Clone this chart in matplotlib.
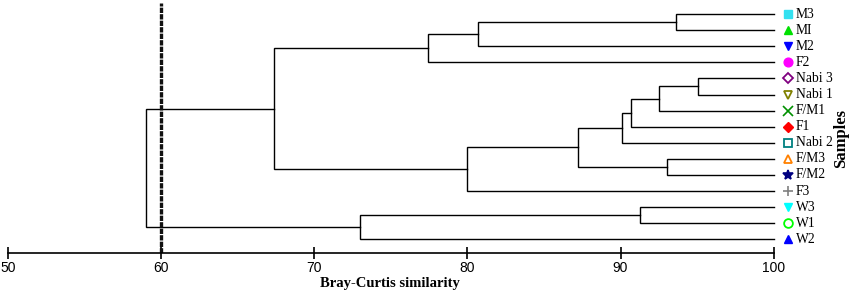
import matplotlib
matplotlib.use("Agg")
import matplotlib.pyplot as plt

# Leaves, top to bottom
leaves = ["M3", "MI", "M2", "F2", "Nabi 3", "Nabi 1", "F/M1", "F1", "Nabi 2",
          "F/M3", "F/M2", "F3", "W3", "W1", "W2"]
markers = ["s", "^", "v", "o", "D", "v", "x", "D", "s", "^", "*", "+", "v", "o", "^"]
colors = ["#33e0f0", "#00e000", "#0000ff", "#ff00ff", "#800080", "#808000",
          "#009000", "#ff0000", "#008080", "#ff8000", "#000080", "#808080",
          "#00ffff", "#00ff00", "#0000ff"]
filled = [True, True, True, True, False, False, True, True, False, False,
          True, True, True, False, True]

# Merges: (left node, right node, similarity). Nodes: leaf index or "cN"
merges = [
    (0, 1, 93.6),        # c0
    ("c0", 2, 80.7),     # c1
    ("c1", 3, 77.4),     # c2
    (4, 5, 95.05),       # c3
    ("c3", 6, 92.5),     # c4
    ("c4", 7, 90.7),     # c5
    ("c5", 8, 90.1),     # c6
    (9, 10, 93.0),       # c7
    ("c6", "c7", 87.2),  # c8
    ("c8", 11, 80.0),    # c9
    ("c2", "c9", 67.4),  # c10
    (12, 13, 91.3),      # c11
    ("c11", 14, 73.0),   # c12
    ("c10", "c12", 59.0) # c13
]
cutoff = 60
xticks = [50, 60, 70, 80, 90, 100]

W, H = 851, 292
fig = plt.figure(figsize=(W / 100, H / 100), dpi=100)
x0, x1 = 8, 773.7
ax_bottom = 253
ax = fig.add_axes([x0 / W, (H - ax_bottom) / H, (x1 - x0) / W, ax_bottom / H])
step = 16.1
first = 14
ax.set_xlim(50, 100)
ax.set_ylim((ax_bottom - first) / step, -first / step)
upx = (x1 - x0) / 50  # pixels per unit

pos = {}
height = {}
for i in range(len(leaves)):
    pos[i] = i
    height[i] = 100
for k, (a, b, s) in enumerate(merges):
    ya, yb = pos[a], pos[b]
    ha, hb = height[a], height[b]
    ax.plot([ha, s, s, hb], [ya, ya, yb, yb], color="black", lw=1.0,
            solid_joinstyle="miter", clip_on=False)
    name = "c%d" % k
    pos[name] = (ya + yb) / 2
    height[name] = s

ax.axvline(cutoff, ymin=0, ymax=1 - 3 / ax_bottom, color="#111111", lw=2.4,
           linestyle=(0, (1.6, 0.35)))

label_font = {"family": ["Liberation Serif", "DejaVu Serif"], "size": 9.8}
for i, name in enumerate(leaves):
    ms = 6.3 if markers[i] not in ("x", "+", "*") else 7.3
    if markers[i] == "D":
        ms = 5.3
    kw = dict(marker=markers[i], ms=ms, color=colors[i], clip_on=False,
              linestyle="none")
    if filled[i]:
        kw.update(mfc=colors[i], mec=colors[i])
    else:
        kw.update(mfc="none", mec=colors[i], mew=1.3)
    if markers[i] in ("x", "+", "*"):
        kw.update(mew=1.2)
    ax.plot([100 + (788 - x1) / upx], [i], **kw)
    ax.text(100 + (796 - x1) / upx, i, name, va="center",
            ha="left", fontdict=label_font, clip_on=False)

for s in ["left", "right", "top"]:
    ax.spines[s].set_visible(False)
ax.spines["bottom"].set_linewidth(1.2)
ax.set_yticks([])
ax.set_xticks(xticks)
ax.tick_params(axis="x", direction="inout", length=8, width=1.2, pad=2,
               labelsize=10)
for t in ax.get_xticklabels():
    t.set_fontfamily(["Liberation Sans", "DejaVu Sans"])
fig.text(390 / W, 1 - 284 / H, "Bray-Curtis similarity", ha="center",
         va="center", fontfamily=["Liberation Serif"], fontweight="bold",
         fontsize=10.5)
fig.text(841 / W, 1 - 139 / H, "Samples", rotation=90, ha="center", va="center",
         fontfamily=["Liberation Serif"], fontweight="bold", fontsize=12)

fig.savefig("out.png", dpi=100)
